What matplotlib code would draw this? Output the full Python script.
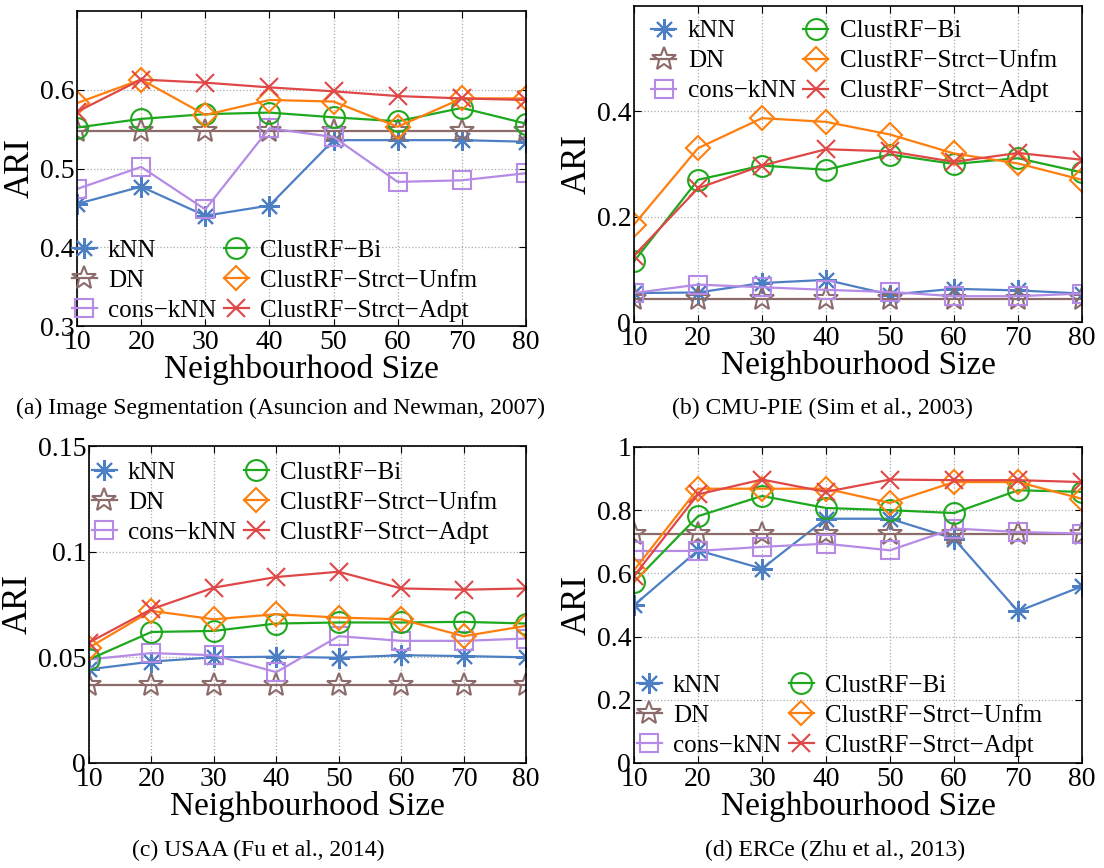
import matplotlib
matplotlib.use("Agg")
import matplotlib.pyplot as plt

plt.rcParams["font.family"] = ["Liberation Serif", "DejaVu Serif"]

sizes = [10, 20, 30, 40, 50, 60, 70, 80]
methods = ["kNN", "DN", "cons−kNN", "ClustRF−Bi", "ClustRF−Strct−Unfm", "ClustRF−Strct−Adpt"]
colors = ["#4d7fc4", "#8c6b6b", "#b58be6", "#1ea81e", "#ff7f0e", "#e04848"]
markers = [(8, 2, 0), "*", "s", "o", "D", "x"]
msizes = [15, 18, 13, 15, 12, 13]

# (a) Image Segmentation
seg = [
    [0.455, 0.477, 0.440, 0.453, 0.536, 0.536, 0.536, 0.534],
    [0.548] * 8,
    [0.474, 0.502, 0.448, 0.551, 0.540, 0.483, 0.485, 0.494],
    [0.552, 0.563, 0.569, 0.571, 0.565, 0.560, 0.577, 0.557],
    [0.583, 0.613, 0.568, 0.587, 0.585, 0.553, 0.589, 0.589],
    [0.572, 0.613, 0.609, 0.603, 0.598, 0.592, 0.589, 0.587],
]
# (b) CMU-PIE
pie = [
    [0.055, 0.056, 0.074, 0.080, 0.052, 0.063, 0.060, 0.054],
    [0.044] * 8,
    [0.055, 0.071, 0.066, 0.061, 0.057, 0.049, 0.049, 0.054],
    [0.115, 0.270, 0.297, 0.289, 0.318, 0.300, 0.311, 0.284],
    [0.185, 0.330, 0.387, 0.380, 0.356, 0.320, 0.301, 0.270],
    [0.126, 0.254, 0.297, 0.328, 0.324, 0.304, 0.321, 0.308],
]
# (c) USAA
usaa = [
    [0.0443, 0.048, 0.050, 0.0503, 0.0498, 0.051, 0.0506, 0.050],
    [0.0369] * 8,
    [0.049, 0.052, 0.051, 0.043, 0.060, 0.0578, 0.0578, 0.0589],
    [0.049, 0.062, 0.0625, 0.066, 0.0665, 0.0665, 0.0668, 0.066],
    [0.0546, 0.072, 0.068, 0.0704, 0.0688, 0.068, 0.060, 0.0649],
    [0.057, 0.0728, 0.083, 0.088, 0.0905, 0.0826, 0.082, 0.0826],
]
# (d) ERCe
erce = [
    [0.499, 0.673, 0.615, 0.773, 0.773, 0.710, 0.480, 0.559],
    [0.726] * 8,
    [0.671, 0.671, 0.684, 0.694, 0.673, 0.742, 0.731, 0.726],
    [0.573, 0.781, 0.845, 0.807, 0.800, 0.791, 0.863, 0.858],
    [0.610, 0.868, 0.868, 0.868, 0.823, 0.889, 0.889, 0.836],
    [0.592, 0.850, 0.897, 0.858, 0.897, 0.895, 0.895, 0.889],
]

captions = [
    "(a) Image Segmentation (Asuncion and Newman, 2007)",
    "(b) CMU-PIE (Sim et al., 2003)",
    "(c) USAA (Fu et al., 2014)",
    "(d) ERCe (Zhu et al., 2013)",
]

W, H = 1104, 868
fig = plt.figure(figsize=(W / 100, H / 100), dpi=100)

# pixel boxes: left, right, top, bottom
boxes = [(77, 526, 11, 326), (634, 1082, 6, 322), (89, 526, 446, 763), (634, 1082, 447, 763)]
datasets = [seg, pie, usaa, erce]
ylims = [(0.3, 0.7), (0, 0.6), (0, 0.15), (0, 1)]
yticks = [[0.3, 0.4, 0.5, 0.6], [0, 0.2, 0.4], [0, 0.05, 0.1, 0.15], [0, 0.2, 0.4, 0.6, 0.8, 1]]
yticklabels = [["0.3", "0.4", "0.5", "0.6"], ["0", "0.2", "0.4"], ["0", "0.05", "0.1", "0.15"],
               ["0", "0.2", "0.4", "0.6", "0.8", "1"]]
legend_loc = ["lower left", "upper left", "upper left", "lower left"]
legend_anchor = [(-0.012, 0.012), (0.039, 0.956), (0.006, 0.952), (0.006, 0.019)]
cap_pos = [(280, 408), (822, 408), (258, 850), (835, 850)]

for k in range(4):
    l, r, t, b = boxes[k]
    ax = fig.add_axes([l / W, 1 - b / H, (r - l) / W, (b - t) / H])
    for i in range(6):
        ax.plot(sizes, datasets[k][i], color=colors[i], marker=markers[i], markersize=msizes[i],
                markerfacecolor="none", markeredgewidth=1.5, linewidth=1.6, label=methods[i])
    ax.set_xlim(10, 80)
    ax.set_ylim(*ylims[k])
    ax.set_xticks(sizes)
    ax.set_yticks(yticks[k])
    ax.set_yticklabels(yticklabels[k])
    ax.grid(True, linestyle=":", color="#aaaaaa", linewidth=0.9)
    ax.tick_params(direction="in", top=True, right=True, labelsize=20, pad=2, length=5)
    ax.tick_params(axis="x", pad=3)
    for s in ax.spines.values():
        s.set_linewidth(1.2)
    ax.set_xlabel("Neighbourhood Size", fontsize=24, labelpad=-1)
    ax.set_ylabel("ARI", fontsize=25, labelpad=2)
    ax.legend(loc=legend_loc[k], bbox_to_anchor=legend_anchor[k], ncol=2, frameon=False,
              fontsize=18, handlelength=1.0, handletextpad=0.45, columnspacing=0.3,
              labelspacing=0.3, borderaxespad=0, borderpad=0)
    fig.text(cap_pos[k][0] / W, 1 - cap_pos[k][1] / H, captions[k], fontsize=17,
             ha="center", va="center")

fig.savefig("out.png", dpi=100)
